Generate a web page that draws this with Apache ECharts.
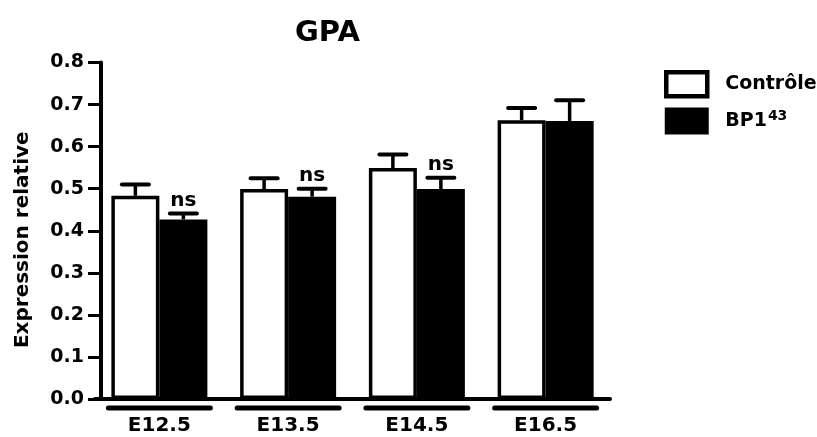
<!DOCTYPE html>
<html>
<head>
<meta charset="utf-8">
<script src="https://cdn.jsdelivr.net/npm/echarts@6/dist/echarts.min.js"></script>
<style>
  html, body { margin: 0; padding: 0; background: #fff; }
  #GPABarChart { width: 817px; height: 437px; }
</style>
</head>
<body>
<div id="GPABarChart"></div>
<script>
// donnees
var categories = ['E12.5', 'E13.5', 'E14.5', 'E16.5'];
var seriesNames = ['Contrôle', 'BP1'];
var controle = [0.483, 0.499, 0.549, 0.663];
var controleErr = [0.027, 0.026, 0.032, 0.029];
var bp1 = [0.427, 0.481, 0.499, 0.661];
var bp1Err = [0.014, 0.019, 0.027, 0.049];
var sigLabels = ['ns', 'ns', 'ns', ''];

var font = 'DejaVu Sans';
var barWidth = 48;

// barre d'erreur (SEM haut seulement)
function errorBarRenderer(offset, withLabel) {
  return function (params, api) {
    var i = api.value(0);
    var top = api.coord([i, api.value(1)]);
    var cap = api.coord([i, api.value(1) + api.value(2)]);
    var x = top[0] + offset;
    var children = [
      { type: 'line', shape: { x1: x, y1: top[1], x2: x, y2: cap[1] }, style: { stroke: '#000', lineWidth: 3.5 } },
      { type: 'line', shape: { x1: x - 13.5, y1: cap[1], x2: x + 13.5, y2: cap[1] }, style: { stroke: '#000', lineWidth: 4, lineCap: 'round' } }
    ];
    if (withLabel && sigLabels[i]) {
      children.push({
        type: 'text',
        style: { text: sigLabels[i], x: x, y: cap[1] - 13, align: 'center', verticalAlign: 'middle',
                 font: 'bold 20px "' + font + '"', fill: '#000' }
      });
    }
    return { type: 'group', children: children };
  };
}

var chart = echarts.init(document.getElementById('GPABarChart'));
var option = {
  animation: false,
  backgroundColor: '#fff',
  title: {
    text: 'GPA',
    left: 295,
    top: 19,
    padding: 0,
    textStyle: { fontFamily: font, fontWeight: 'bold', fontSize: 29, color: '#000' }
  },
  legend: {
    data: [
      { name: seriesNames[0], itemStyle: { color: '#fff', borderColor: '#000', borderWidth: 4.5 } },
      { name: seriesNames[1], itemStyle: { color: '#000', borderColor: '#000', borderWidth: 3 } }
    ],
    icon: 'rect',
    left: 664,
    top: 70,
    padding: 0,
    orient: 'vertical',
    itemWidth: 41,
    itemHeight: 24,
    itemGap: 9,
    formatter: function (name) {
      return name === 'BP1' ? '{b|BP1}{s|43}' : '{b|' + name + '}';
    },
    textStyle: {
      padding: [0, 0, 0, 13],
      rich: {
        b: { fontFamily: font, fontWeight: 'bold', fontSize: 19, color: '#000', lineHeight: 24 },
        s: { fontFamily: font, fontWeight: 'bold', fontSize: 14, color: '#000', lineHeight: 24, verticalAlign: 'top', padding: [0, 0, 11, 1] }
      }
    }
  },
  grid: { left: 95, width: 515, top: 62.5, bottom: 38, containLabel: false },
  xAxis: {
    type: 'category',
    data: categories,
    axisLine: { show: true, lineStyle: { color: '#000', width: 4 } },
    axisTick: { show: false },
    axisLabel: { color: '#000', fontFamily: font, fontWeight: 'bold', fontSize: 20, margin: 17 }
  },
  yAxis: {
    type: 'value',
    min: 0,
    max: 0.8,
    interval: 0.1,
    offset: -6,
    name: 'Expression relative',
    nameLocation: 'middle',
    nameGap: 68,
    nameTextStyle: { color: '#000', fontFamily: font, fontWeight: 'bold', fontSize: 20, padding: [0, 18, 0, 0] },
    axisLine: { show: true, lineStyle: { color: '#000', width: 4 } },
    axisTick: { show: true, inside: false, length: 13, lineStyle: { color: '#000', width: 3 } },
    splitLine: { show: false },
    axisLabel: {
      color: '#000', fontFamily: font, fontWeight: 'bold', fontSize: 19, margin: 17,
      formatter: function (v) { return v.toFixed(1); }
    }
  },
  series: [
    {
      name: seriesNames[0],
      type: 'bar',
      data: controle,
      barWidth: barWidth,
      barGap: '0%',
      itemStyle: { color: '#fff', borderColor: '#000', borderWidth: 3.5 },
      z: 2
    },
    {
      name: seriesNames[1],
      type: 'bar',
      data: bp1,
      barWidth: barWidth,
      itemStyle: { color: '#000', borderColor: '#000', borderWidth: 3 },
      z: 2
    },
    {
      type: 'custom',
      name: 'errCtrl',
      data: controle.map(function (v, i) { return [i, v, controleErr[i]]; }),
      renderItem: errorBarRenderer(-barWidth / 2, false),
      z: 3
    },
    {
      type: 'custom',
      name: 'errBP1',
      data: bp1.map(function (v, i) { return [i, v, bp1Err[i]]; }),
      renderItem: errorBarRenderer(barWidth / 2, true),
      z: 3
    },
    {
      // trait sous chaque groupe
      type: 'custom',
      name: 'groupLines',
      data: categories.map(function (c, i) { return [i, 0]; }),
      clip: false,
      renderItem: function (params, api) {
        var p = api.coord([api.value(0), 0]);
        return {
          type: 'line',
          shape: { x1: p[0] - 51, y1: p[1] + 9, x2: p[0] + 51, y2: p[1] + 9 },
          style: { stroke: '#000', lineWidth: 5, lineCap: 'round' }
        };
      },
      z: 3
    }
  ]
};
chart.setOption(option);
</script>
</body>
</html>
